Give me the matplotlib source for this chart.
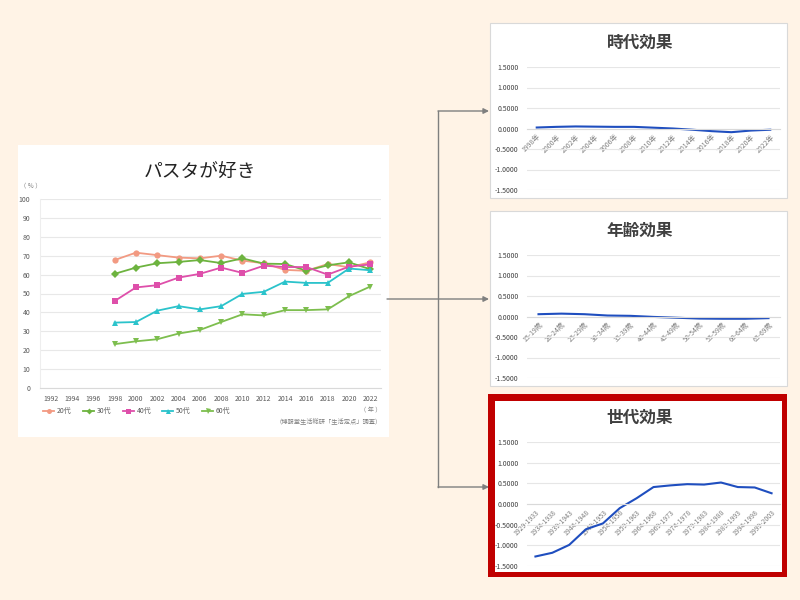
import matplotlib
matplotlib.use('Agg')
import matplotlib.pyplot as plt
from matplotlib.patches import Rectangle

plt.rcParams['font.family'] = ['Noto Sans CJK JP', 'DejaVu Sans']

W, H = 800, 600

# left chart data: "パスタが好き" (%)
years = [1992, 1994, 1996, 1998, 2000, 2002, 2004, 2006, 2008, 2010, 2012, 2014, 2016, 2018, 2020, 2022]
survey_years = [1998, 2000, 2002, 2004, 2006, 2008, 2010, 2012, 2014, 2016, 2018, 2020, 2022]
age_20s = [67.7, 71.6, 70.3, 69.0, 68.6, 70.0, 67.4, 66.0, 62.5, 62.0, 65.6, 63.9, 66.5]
age_30s = [60.4, 63.7, 66.0, 66.7, 67.7, 66.1, 68.6, 65.8, 65.6, 62.1, 64.9, 66.5, 62.8]
age_40s = [46.0, 53.2, 54.4, 58.4, 60.4, 63.7, 60.9, 64.7, 64.0, 64.0, 60.0, 64.2, 65.4]
age_50s = [34.6, 34.9, 40.9, 43.3, 41.6, 43.3, 49.8, 50.9, 56.3, 55.6, 55.6, 63.2, 62.3]
age_60s = [23.2, 24.7, 25.8, 28.8, 30.7, 34.9, 39.0, 38.4, 41.2, 41.2, 41.6, 48.6, 53.7]
series_labels = ['20代', '30代', '40代', '50代', '60代']

# right charts data
period_cats = ['1998年', '2000年', '2002年', '2004年', '2006年', '2008年', '2010年',
               '2012年', '2014年', '2016年', '2018年', '2020年', '2022年']
period_effect = [0.024, 0.04, 0.05, 0.045, 0.04, 0.04, 0.02, 0.0, -0.03, -0.065, -0.09, -0.05, -0.03]

age_cats = ['15-19歳', '20-24歳', '25-29歳', '30-34歳', '35-39歳', '40-44歳',
            '45-49歳', '50-54歳', '55-59歳', '60-64歳', '65-69歳']
age_effect = [0.056, 0.07, 0.056, 0.024, 0.016, -0.01, -0.03, -0.05, -0.055, -0.055, -0.04]

cohort_cats = ['1929-1933', '1934-1938', '1939-1943', '1944-1948', '1949-1953',
               '1954-1958', '1959-1963', '1964-1968', '1969-1973', '1974-1978',
               '1979-1983', '1984-1988', '1989-1993', '1994-1998', '1999-2003']
cohort_effect = [-1.27, -1.18, -0.99, -0.61, -0.47, -0.10, 0.14, 0.41, 0.45, 0.48,
                 0.47, 0.52, 0.41, 0.40, 0.26]


def px_axes(fig, left, top, right, bottom):
    return fig.add_axes([left / W, 1 - bottom / H, (right - left) / W, (bottom - top) / H])


fig = plt.figure(figsize=(8, 6), dpi=100)
fig.patch.set_facecolor('#FFF3E6')

# background layer in pixel coords
bg = fig.add_axes([0, 0, 1, 1])
bg.set_xlim(0, W)
bg.set_ylim(H, 0)
bg.axis('off')
bg.set_zorder(-1)

bg.add_patch(Rectangle((18, 145), 371, 292, facecolor='white', edgecolor='none'))
bg.add_patch(Rectangle((490, 23), 297, 175, facecolor='white', edgecolor='#D9D9D9', lw=0.8))
bg.add_patch(Rectangle((490, 211), 297, 175, facecolor='white', edgecolor='#D9D9D9', lw=0.8))
bg.add_patch(Rectangle((488, 394), 299, 183, facecolor='#C00000', edgecolor='none'))
bg.add_patch(Rectangle((495, 401), 287, 171, facecolor='white', edgecolor='none'))

# connectors
arrow_color = '#7F7F7F'
bg.plot([438, 438], [111, 487], color=arrow_color, lw=1)
for y0, x0 in [(299, 387), (111, 438), (487, 438)]:
    bg.annotate('', xy=(489, y0), xytext=(x0, y0),
                arrowprops=dict(arrowstyle='-|>', color=arrow_color, lw=1,
                                mutation_scale=8, shrinkA=0, shrinkB=0))

# ---- left chart ----
ax = px_axes(fig, 40, 199, 381, 388)
ax.set_facecolor('none')
styles = [('#F29A82', 'o'), ('#6DB33F', 'D'), ('#DE4FAA', 's'), ('#2BC3CB', '^'), ('#7DBE4E', 'v')]
for label, vals, (color, marker) in zip(series_labels,
                                        [age_20s, age_30s, age_40s, age_50s, age_60s], styles):
    ms = 3.8 if marker == 'D' else 4.5
    ax.plot(survey_years, vals, color=color, marker=marker, markersize=ms,
            markeredgewidth=0, linewidth=1.3, label=label)
ax.set_xlim(1991, 2023)
ax.set_ylim(0, 100)
ax.set_xticks(years)
ax.set_yticks(range(0, 101, 10))
ax.grid(axis='y', color='#E8E8E8', linewidth=0.8)
ax.set_axisbelow(True)
ax.tick_params(length=0, labelsize=5, colors='#595959')
ax.tick_params(axis='y', pad=7)
ax.tick_params(axis='x', pad=5)
for s in ['top', 'right']:
    ax.spines[s].set_visible(False)
ax.spines['left'].set_color('#EEEEEE')
ax.spines['bottom'].set_color('#D9D9D9')
ax.legend(ncol=5, frameon=False, loc='center left',
          bbox_to_anchor=(37 / W, 1 - 411 / H), bbox_transform=fig.transFigure,
          fontsize=5, handlelength=1.6, handletextpad=0.4, columnspacing=1.6,
          markerscale=0.8, labelcolor='#595959')

fig.text(200 / W, 1 - 172 / H, 'パスタが好き', fontsize=13.5, ha='center', va='center', color='#222222')
fig.text(20 / W, 1 - 185 / H, '（ ％ ）', fontsize=4.5, ha='left', va='center', color='#7F7F7F')
fig.text(382 / W, 1 - 410 / H, '（ 年 ）', fontsize=4.5, ha='right', va='center', color='#7F7F7F')
fig.text(382 / W, 1 - 421 / H, '（博報堂生活総研「生活定点」調査）', fontsize=4.5,
         ha='right', va='center', color='#7F7F7F')


# ---- right charts ----
def draw_effect(title, cats, vals, title_y, top, bottom):
    eax = px_axes(fig, 527, top, 780, bottom)
    eax.set_facecolor('none')
    for s in ['top', 'right', 'left']:
        eax.spines[s].set_visible(False)
    # category axis crosses at zero; set before labels (resets ticks)
    eax.spines['bottom'].set_position(('data', 0))
    eax.spines['bottom'].set_color('#D9D9D9')
    xs = list(range(len(cats)))
    eax.plot(xs, vals, color='#1F4EBF', linewidth=1.5)
    eax.set_xlim(-0.5, len(cats) - 0.5)
    eax.set_ylim(-1.5, 1.5)
    yt = [1.5, 1.0, 0.5, 0.0, -0.5, -1.0, -1.5]
    eax.set_yticks(yt)
    eax.set_yticklabels(['%.4f' % v for v in yt])
    eax.set_xticks(xs)
    eax.set_xticklabels(cats)
    for lab in eax.get_xticklabels():
        lab.set_rotation(45)
        lab.set_ha('right')
        lab.set_rotation_mode('anchor')
    eax.grid(axis='y', color='#E6E6E6', linewidth=0.8)
    eax.set_axisbelow(True)
    eax.tick_params(length=0)
    eax.tick_params(axis='y', labelsize=5, colors='#404040', pad=6)
    eax.tick_params(axis='x', labelsize=5, colors='#7F7F7F', pad=3)
    fig.text(640 / W, 1 - title_y / H, title, fontsize=12, fontweight='bold',
             ha='center', va='center', color='#404040')


draw_effect('時代効果', period_cats, period_effect, 43, 67, 190)
draw_effect('年齢効果', age_cats, age_effect, 231, 255, 378)
draw_effect('世代効果', cohort_cats, cohort_effect, 418, 442, 566)

fig.savefig('out.png', dpi=100, facecolor=fig.get_facecolor())
